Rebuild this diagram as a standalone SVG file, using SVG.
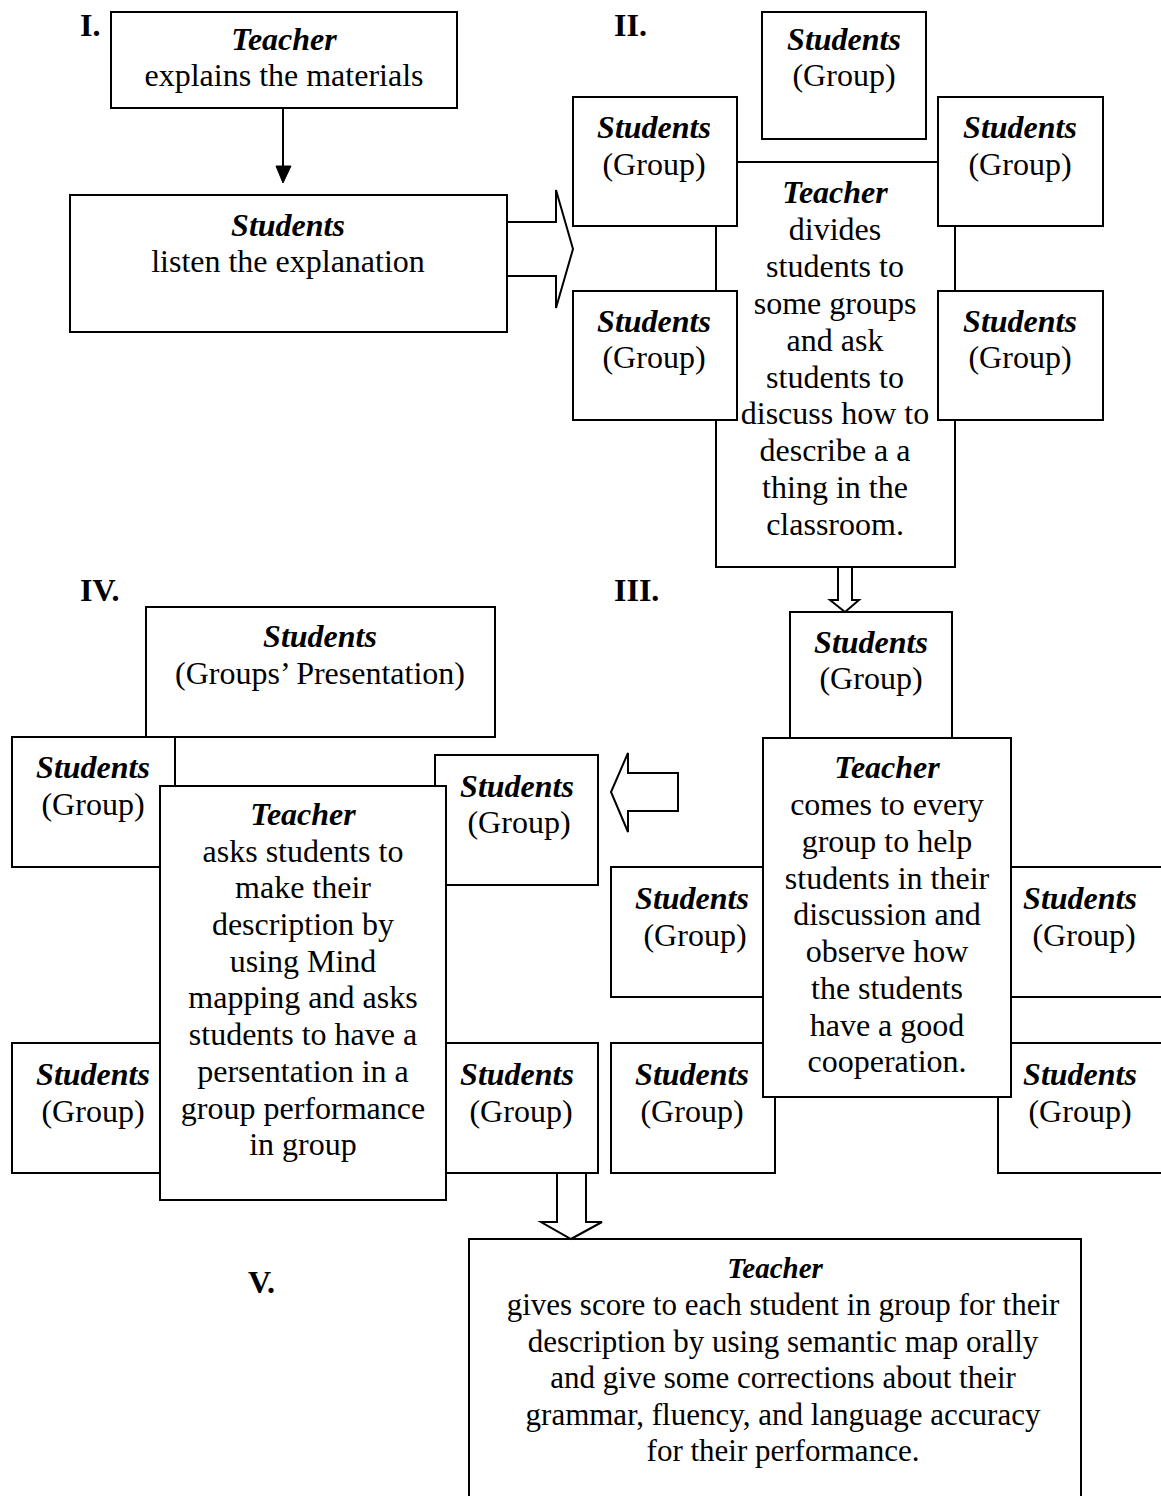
<svg xmlns="http://www.w3.org/2000/svg" width="1161" height="1496" viewBox="0 0 1161 1496">
<style>
.b{fill:#fff;stroke:#000;stroke-width:2}
.c{fill:#fff;stroke:#000;stroke-width:2;stroke-linejoin:miter}
.t{font-family:"Liberation Serif","Times New Roman",serif;font-size:32px;text-anchor:middle;fill:#000}
.h{font-weight:bold;font-style:italic}
.l{font-family:"Liberation Serif","Times New Roman",serif;font-size:32px;font-weight:bold;fill:#000}
.v{font-size:31px}
</style>
<rect width="1161" height="1496" fill="#fff"/>
<g id="labels">
<text class="l" x="80" y="36">I.</text>
<text class="l" x="614" y="36">II.</text>
<text class="l" x="614" y="601">III.</text>
<text class="l" x="80" y="601">IV.</text>
<text class="l" x="248" y="1293">V.</text>
</g>
<g id="s1-teacher">
<rect class="b" x="111" y="12" width="346" height="96"/>
<text class="t h" x="284" y="50">Teacher</text>
<text class="t" x="284" y="86">explains the materials</text>
</g>
<g id="s1-students">
<rect class="b" x="70" y="195" width="437" height="137"/>
<text class="t h" x="288" y="236">Students</text>
<text class="t" x="288" y="272">listen the explanation</text>
</g>
<g id="s2-teacher">
<rect class="b" x="716" y="162" width="239" height="405"/>
<text class="t h" x="835" y="203">Teacher</text>
<text class="t" x="835" y="240">divides</text>
<text class="t" x="835" y="277">students to</text>
<text class="t" x="835" y="314">some groups</text>
<text class="t" x="835" y="351">and ask</text>
<text class="t" x="835" y="388">students to</text>
<text class="t" x="835" y="424">discuss how to</text>
<text class="t" x="835" y="461">describe a a</text>
<text class="t" x="835" y="498">thing in the</text>
<text class="t" x="835" y="535">classroom.</text>
</g>
<g id="s2-group-top">
<rect class="b" x="762" y="12" width="164" height="127"/>
<text class="t h" x="844" y="50">Students</text>
<text class="t" x="844" y="86">(Group)</text>
</g>
<g id="s2-group-lt">
<rect class="b" x="573" y="97" width="164" height="129"/>
<text class="t h" x="654" y="138">Students</text>
<text class="t" x="654" y="175">(Group)</text>
</g>
<g id="s2-group-rt">
<rect class="b" x="938" y="97" width="165" height="129"/>
<text class="t h" x="1020" y="138">Students</text>
<text class="t" x="1020" y="175">(Group)</text>
</g>
<g id="s2-group-lb">
<rect class="b" x="573" y="291" width="164" height="129"/>
<text class="t h" x="654" y="332">Students</text>
<text class="t" x="654" y="368">(Group)</text>
</g>
<g id="s2-group-rb">
<rect class="b" x="938" y="291" width="165" height="129"/>
<text class="t h" x="1020" y="332">Students</text>
<text class="t" x="1020" y="368">(Group)</text>
</g>
<g id="s3-group-top">
<rect class="b" x="790" y="612" width="162" height="126"/>
<text class="t h" x="871" y="653">Students</text>
<text class="t" x="871" y="689">(Group)</text>
</g>
<g id="s3-group-lm">
<rect class="b" x="611" y="867" width="152" height="130"/>
<text class="t h" x="692" y="909">Students</text>
<text class="t" x="695" y="946">(Group)</text>
</g>
<g id="s3-group-rm">
<rect class="b" x="1011" y="867" width="170" height="130"/>
<text class="t h" x="1080" y="909">Students</text>
<text class="t" x="1084" y="946">(Group)</text>
</g>
<g id="s3-group-lb">
<rect class="b" x="611" y="1043" width="164" height="130"/>
<text class="t h" x="692" y="1085">Students</text>
<text class="t" x="692" y="1122">(Group)</text>
</g>
<g id="s3-group-rb">
<rect class="b" x="998" y="1043" width="183" height="130"/>
<text class="t h" x="1080" y="1085">Students</text>
<text class="t" x="1080" y="1122">(Group)</text>
</g>
<g id="s3-teacher">
<rect class="b" x="763" y="738" width="248" height="359"/>
<text class="t h" x="887" y="778">Teacher</text>
<text class="t" x="887" y="815">comes to every</text>
<text class="t" x="887" y="852">group to help</text>
<text class="t" x="887" y="889">students in their</text>
<text class="t" x="887" y="925">discussion and</text>
<text class="t" x="887" y="962">observe how</text>
<text class="t" x="887" y="999">the students</text>
<text class="t" x="887" y="1036">have a good</text>
<text class="t" x="887" y="1072">cooperation.</text>
</g>
<g id="s4-group-top">
<rect class="b" x="146" y="607" width="349" height="130"/>
<text class="t h" x="320" y="647">Students</text>
<text class="t" x="320" y="684">(Groups’ Presentation)</text>
</g>
<g id="s4-group-lt">
<rect class="b" x="12" y="737" width="163" height="130"/>
<text class="t h" x="93" y="778">Students</text>
<text class="t" x="93" y="815">(Group)</text>
</g>
<g id="s4-group-rt">
<rect class="b" x="435" y="755" width="163" height="130"/>
<text class="t h" x="517" y="797">Students</text>
<text class="t" x="519" y="833">(Group)</text>
</g>
<g id="s4-group-lb">
<rect class="b" x="12" y="1043" width="160" height="130"/>
<text class="t h" x="93" y="1085">Students</text>
<text class="t" x="93" y="1122">(Group)</text>
</g>
<g id="s4-group-rb">
<rect class="b" x="440" y="1043" width="158" height="130"/>
<text class="t h" x="517" y="1085">Students</text>
<text class="t" x="521" y="1122">(Group)</text>
</g>
<g id="s4-teacher">
<rect class="b" x="160" y="786" width="286" height="414"/>
<text class="t h" x="303" y="825">Teacher</text>
<text class="t" x="303" y="862">asks students to</text>
<text class="t" x="303" y="898">make their</text>
<text class="t" x="303" y="935">description by</text>
<text class="t" x="303" y="972">using Mind</text>
<text class="t" x="303" y="1008">mapping and asks</text>
<text class="t" x="303" y="1045">students to have a</text>
<text class="t" x="303" y="1082">persentation in a</text>
<text class="t" x="303" y="1119">group performance</text>
<text class="t" x="303" y="1155">in group</text>
</g>
<g id="s5-teacher">
<rect class="b" x="469" y="1239" width="612" height="280"/>
<text class="t h" x="775" y="1278" style="font-size:29px">Teacher</text>
<text class="t v" x="783" y="1315">gives score to each student in group for their</text>
<text class="t v" x="783" y="1352">description by using semantic map orally</text>
<text class="t v" x="783" y="1388">and give some corrections about their</text>
<text class="t v" x="783" y="1425">grammar, fluency, and language accuracy</text>
<text class="t v" x="783" y="1461">for their performance.</text>
</g>
<g id="connectors">
<line x1="283" y1="108" x2="283" y2="168" stroke="#000" stroke-width="2"/>
<polygon points="276,166 291,166 283,183" fill="#000" stroke="#000" stroke-width="1"/>
<polygon class="c" points="507,222 556,222 556,190 573,249 556,308 556,276 507,276"/>
<polygon class="c" points="838,567 852,567 852,600 859,600 845,612 830,600 838,600"/>
<polygon class="c" points="678,773 628,773 628,753 611,792 628,832 628,811 678,811"/>
<polygon class="c" points="557,1173 586,1173 586,1222 602,1222 571,1239 541,1222 557,1222"/>
</g>
</svg>
